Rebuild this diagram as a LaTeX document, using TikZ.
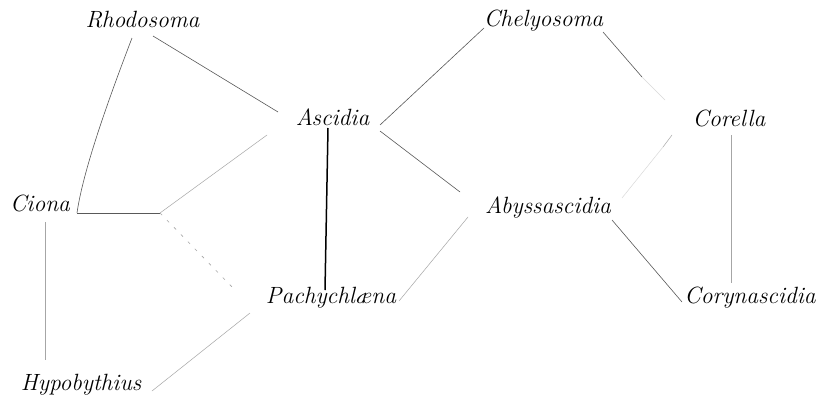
\documentclass[tikz,border=0pt]{standalone}
\usetikzlibrary{calc}
\begin{document}
\begin{tikzpicture}[x=1pt,y=-1pt,
  genus/.style={anchor=base,inner sep=0pt,font=\fontsize{23.5}{27}\selectfont\itshape},
  link/.style={draw=black!65,line width=0.6pt},
  faint/.style={draw=black!35,line width=0.5pt},
  ghost/.style={draw=black!15,line width=0.5pt},
  strong/.style={draw=black,line width=1.5pt},
  dotted link/.style={draw=black!35,line width=0.6pt,dash pattern=on 3pt off 7pt}]
\fill[white] (0,0) rectangle (819,399);
\useasboundingbox (0,0) rectangle (819,399);
% genera
\node[genus] (R)  at (142.5,27) {Rhodosoma};
\node[genus] (Ch) at (543.5,26) {Chelyosoma};
\node[genus] (A)  at (332.5,125) {Ascidia};
\node[genus] (Co) at (729,126) {Corella};
\node[genus] (Ci) at (40,211) {Ciona};
\node[genus] (Ab) at (548,213) {Abyssascidia};
\node[genus] (P)  at (331,303) {Pachychl\ae na};
\node[genus] (Cy) at (750,303) {Corynascidia};
\node[genus] (H)  at (81,390) {Hypobythius};
\coordinate (J) at (160,213);
% connectors
\draw[link] ([shift={(-10.5,11)}]R.base) .. controls ([shift={(-35,75)}]R.base) and ([shift={(43,-40)}]Ci.base) .. ([shift={(37,2)}]Ci.base);
\draw[link] ([shift={(37,2)}]Ci.base) -- (J);
\draw[link] ([shift={(10.5,9)}]R.base) -- ([shift={(-54.5,-13)}]A.base);
\draw[faint] (J) -- ([shift={(-65.5,10)}]A.base);
\draw[dotted link] (J) -- ([shift={(-96,-13)}]P.base);
\draw[faint] ([shift={(71,1)}]H.base) -- ([shift={(-81,10)}]P.base);
\draw[faint] ([shift={(5,11)}]Ci.base) -- ([shift={(-36,-30)}]H.base);
\draw[strong] ([shift={(-4.5,3)}]A.base) -- ([shift={(-6,-13)}]P.base);
\draw[link] ([shift={(47.5,0)}]A.base) -- ([shift={(-59.5,2)}]Ch.base);
\draw[link] ([shift={(47.5,6)}]A.base) -- ([shift={(-88,-21)}]Ab.base);
\draw[link] ([shift={(59.5,6)}]Ch.base) -- ([shift={(-87,-49)}]Co.base);
\draw[ghost] ([shift={(-87,-49)}]Co.base) -- ([shift={(-64,-26)}]Co.base);
\draw[faint] ([shift={(-57,9)}]Co.base) -- ([shift={(-66,21)}]Co.base);
\draw[ghost] ([shift={(-66,21)}]Co.base) -- ([shift={(74,-15)}]Ab.base);
\draw[link] ([shift={(64,7)}]Ab.base) -- ([shift={(-68,-1)}]Cy.base);
\draw[faint] ([shift={(2,9)}]Co.base) -- ([shift={(-19,-20)}]Cy.base);
\draw[faint] ([shift={(-80,4)}]Ab.base) -- ([shift={(68,-2)}]P.base);
\end{tikzpicture}
\end{document}
